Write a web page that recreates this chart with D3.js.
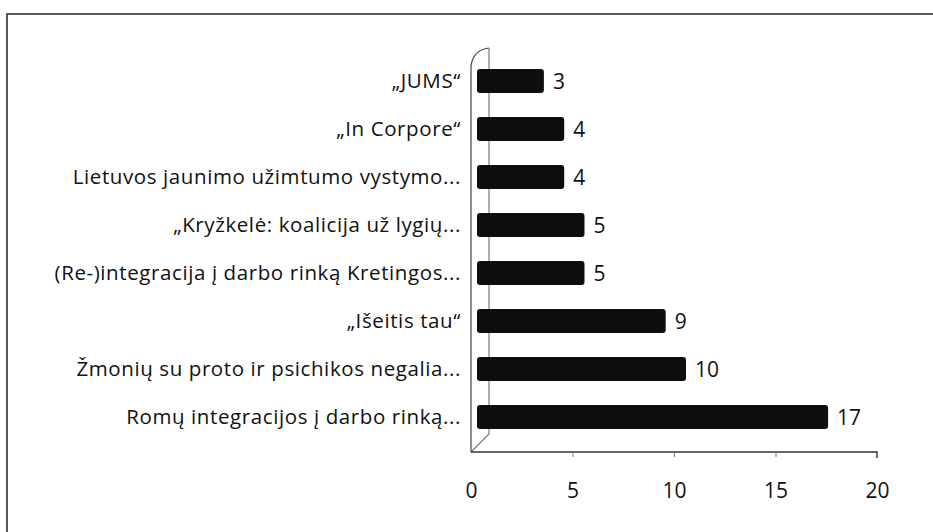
<!DOCTYPE html>
<html>
<head>
<meta charset="utf-8">
<script src="https://cdn.jsdelivr.net/npm/d3@7"></script>
<style>
  body { margin: 0; background: #fff; }
  svg { display: block; font-family: "Open Sans", "DejaVu Sans", sans-serif; }
</style>
</head>
<body>
<svg id="chart" width="933" height="532"></svg>
<script>
const categories = [
  "„JUMS“",
  "„In Corpore“",
  "Lietuvos jaunimo užimtumo vystymo...",
  "„Kryžkelė: koalicija už lygių...",
  "(Re-)integracija į darbo rinką Kretingos...",
  "„Išeitis tau“",
  "Žmonių su proto ir psichikos negalia...",
  "Romų integracijos į darbo rinką...",
];
const values = [3, 4, 4, 5, 5, 9, 10, 17];
const xTicks = [0, 5, 10, 15, 20];

const svg = d3.select("#chart");

const x = d3.scaleLinear().domain([0, 20]).range([471, 877]);
const y = d3.scaleBand()
  .domain(categories)
  .range([57, 441])
  .paddingInner(0.5)
  .paddingOuter(0.25);

// 3d depth of the side wall
const depthX = 18;
const depthY = -16;
const wallTop = 66;
const floorY = 452;

// outer frame (left + top only, rest cut off in the scan)
svg.append("path")
  .attr("d", "M7,532 L7,14 L933,14")
  .attr("fill", "none")
  .attr("stroke", "#222")
  .attr("stroke-width", 1.5);

// side wall
const wall = svg.append("g")
  .attr("fill", "none")
  .attr("stroke", "#444")
  .attr("stroke-width", 1.2);

wall.append("path")
  .attr("d", `M${x(0)},${floorY} L${x(0)},${wallTop}
    Q${x(0) + 2},${wallTop + depthY} ${x(0) + depthX},${wallTop + depthY - 2}`);
wall.append("path")
  .attr("stroke", "#777")
  .attr("d", `M${x(0) + depthX},${wallTop + depthY - 2} L${x(0) + depthX},${floorY + depthY - 2}
    L${x(0)},${floorY}`);

// x axis
const axis = svg.append("g")
  .attr("transform", `translate(0,${floorY})`)
  .call(d3.axisBottom(x).tickValues(xTicks).tickSize(5).tickPadding(26));
axis.select(".domain").attr("stroke", "#333").attr("stroke-width", 1.5).attr("d", `M${x(0)},0H${x(20)}V6`);
axis.selectAll(".tick line").attr("stroke", "#777");
axis.selectAll(".tick").filter(d => d === 0).select("line").remove();
axis.selectAll(".tick text")
  .attr("fill", "#111")
  .attr("font-size", 21)
  .attr("font-family", "Open Sans, sans-serif");

// bars
svg.append("g")
  .selectAll("rect")
  .data(values)
  .join("rect")
  .attr("x", x(0) + 6)
  .attr("y", (d, i) => y(categories[i]))
  .attr("width", d => x(d) - x(0) + 6)
  .attr("height", y.bandwidth())
  .attr("rx", 3)
  .attr("fill", "#0e0e0e");

// value labels
svg.append("g")
  .selectAll("text")
  .data(values)
  .join("text")
  .attr("x", d => x(d) + 21)
  .attr("y", (d, i) => y(categories[i]) + y.bandwidth() / 2)
  .attr("dy", "0.36em")
  .attr("font-size", 21)
  .attr("fill", "#111")
  .text(d => d);

// category labels
svg.append("g")
  .selectAll("text")
  .data(categories)
  .join("text")
  .attr("x", 461)
  .attr("y", d => y(d) + y.bandwidth() / 2)
  .attr("dy", "0.36em")
  .attr("text-anchor", "end")
  .attr("font-size", 20.5)
  .attr("letter-spacing", 0.6)
  .attr("fill", "#111")
  .text(d => d);
</script>
</body>
</html>
